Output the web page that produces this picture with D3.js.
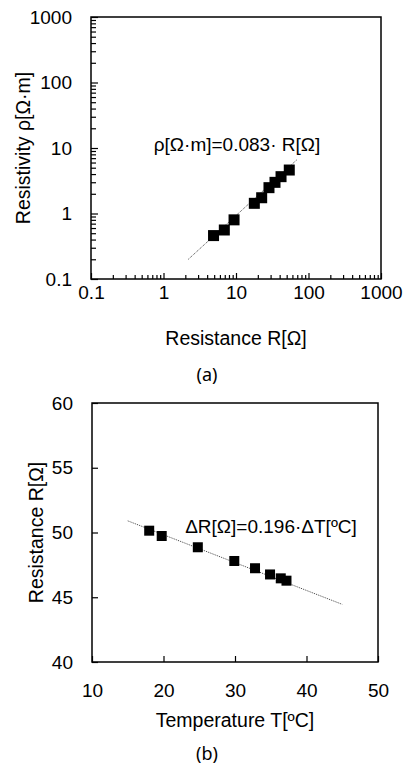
<!DOCTYPE html>
<html>
<head>
<meta charset="utf-8">
<script src="https://cdn.jsdelivr.net/npm/d3@7"></script>
<style>
  body { margin: 0; background: #fff; }
  svg text { font-family: "Liberation Sans", Arial, sans-serif; fill: #000; }
  .cap { font-family: "Noto Sans", "DejaVu Sans", sans-serif; }
</style>
</head>
<body>
<svg id="fig" width="406" height="767"></svg>
<script>
// (a) resistivity vs resistance, log-log
var resA = [4.9, 6.9, 9.4, 17.9, 22.6, 28.5, 34.5, 41.8, 54.3];
var rhoA = [0.46, 0.56, 0.80, 1.43, 1.74, 2.48, 2.99, 3.65, 4.61];
var fitResA = [2.2, 69];
var fitRhoA = [0.2, 6.6];
var decadeTicks = [0.1, 1, 10, 100, 1000];

// (b) resistance vs temperature
var tempB = [18.0, 19.75, 24.8, 29.9, 32.8, 34.9, 36.4, 37.2];
var resB = [50.14, 49.73, 48.86, 47.8, 47.24, 46.76, 46.46, 46.28];
var fitTempB = [15, 45];
var fitResB = [50.9, 44.45];
var tempTicks = [10, 20, 30, 40, 50];
var resTicks = [40, 45, 50, 55, 60];

var svg = d3.select("#fig");
var FS = 19;

function minorLog(lo, hi)
{
    var out = [];
    for (var d = lo; d < hi; d *= 10) {
        for (var k = 2; k <= 9; k++) out.push(d * k);
    }
    return out;
}

function frame(g, w, h)
{
    g.append("rect")
        .attr("width", w).attr("height", h)
        .attr("fill", "none")
        .attr("stroke", "#000")
        .attr("stroke-width", 1.5);
}

function squares(g, xs, ys, x, y, size)
{
    g.selectAll("rect.pt")
        .data(xs)
        .enter().append("rect")
        .attr("class", "pt")
        .attr("x", (d, i) => x(d) - size / 2)
        .attr("y", (d, i) => y(ys[i]) - size / 2)
        .attr("width", size).attr("height", size)
        .attr("fill", "#000");
}

function fitLine(g, xs, ys, x, y)
{
    g.append("line")
        .attr("x1", x(xs[0])).attr("y1", y(ys[0]))
        .attr("x2", x(xs[1])).attr("y2", y(ys[1]))
        .attr("stroke", "#444")
        .attr("stroke-width", 1)
        .attr("stroke-dasharray", "1,1");
}

function styleAxis(sel)
{
    sel.select(".domain").remove();
    sel.selectAll("line").attr("stroke", "#000").attr("stroke-width", 1.2);
    sel.selectAll("text").attr("font-size", FS).attr("font-family", "Liberation Sans, Arial, sans-serif");
}

// ---------- chart (a)
(function() {
    var left = 91, top = 17, w = 290, h = 262;
    var g = svg.append("g").attr("transform", `translate(${left},${top})`);

    var x = d3.scaleLog().domain([0.1, 1000]).range([0, w]);
    var y = d3.scaleLog().domain([0.1, 1000]).range([h, 0]);
    var fmt = d => String(d);

    // minor ticks
    g.append("g").attr("transform", `translate(0,${h})`)
        .call(d3.axisBottom(x).tickValues(minorLog(0.1, 1000)).tickSize(-4).tickFormat(""))
        .call(styleAxis);
    g.append("g")
        .call(d3.axisLeft(y).tickValues(minorLog(0.1, 1000)).tickSize(-5).tickFormat(""))
        .call(styleAxis);

    // major ticks + labels
    g.append("g").attr("transform", `translate(0,${h})`)
        .call(d3.axisBottom(x).tickValues(decadeTicks).tickSize(-6).tickPadding(7).tickFormat(fmt))
        .call(styleAxis);
    g.append("g")
        .call(d3.axisLeft(y).tickValues(decadeTicks).tickSize(-7).tickPadding(19).tickFormat(fmt))
        .call(styleAxis);

    frame(g, w, h);
    fitLine(g, fitResA, fitRhoA, x, y);
    squares(g, resA, rhoA, x, y, 11);

    g.append("text")
        .attr("x", 146).attr("y", 134)
        .attr("text-anchor", "middle")
        .attr("font-size", 19)
        .text("ρ[Ω·m]=0.083· R[Ω]");

    svg.append("text")
        .attr("x", left + w / 2).attr("y", 345)
        .attr("text-anchor", "middle")
        .attr("font-size", 19.5)
        .text("Resistance R[Ω]");

    svg.append("text")
        .attr("transform", `translate(30,${top + h / 2}) rotate(-90)`)
        .attr("text-anchor", "middle")
        .attr("font-size", 19.5)
        .text("Resistivity ρ[Ω·m]");

    svg.append("text")
        .attr("class", "cap")
        .attr("x", 207).attr("y", 381)
        .attr("text-anchor", "middle")
        .attr("font-size", 18)
        .text("(a)");
})();

// ---------- chart (b)
(function() {
    var left = 92, top = 403, w = 286, h = 259;
    var g = svg.append("g").attr("transform", `translate(${left},${top})`);

    var x = d3.scaleLinear().domain([10, 50]).range([0, w]);
    var y = d3.scaleLinear().domain([40, 60]).range([h, 0]);

    g.append("g").attr("transform", `translate(0,${h})`)
        .call(d3.axisBottom(x).tickValues(tempTicks).tickSize(-6).tickPadding(22))
        .call(styleAxis);
    g.append("g")
        .call(d3.axisLeft(y).tickValues(resTicks).tickSize(-6).tickPadding(19))
        .call(styleAxis);

    frame(g, w, h);
    fitLine(g, fitTempB, fitResB, x, y);
    squares(g, tempB, resB, x, y, 10);

    g.append("text")
        .attr("x", 179).attr("y", 130)
        .attr("text-anchor", "middle")
        .attr("font-size", 19)
        .text("ΔR[Ω]=0.196·ΔT[ºC]");

    svg.append("text")
        .attr("x", left + w / 2).attr("y", 727)
        .attr("text-anchor", "middle")
        .attr("font-size", 19.5)
        .text("Temperature T[ºC]");

    svg.append("text")
        .attr("transform", `translate(43,${top + h / 2}) rotate(-90)`)
        .attr("text-anchor", "middle")
        .attr("font-size", 19.5)
        .text("Resistance R[Ω]");

    svg.append("text")
        .attr("class", "cap")
        .attr("x", 207).attr("y", 760)
        .attr("text-anchor", "middle")
        .attr("font-size", 18)
        .text("(b)");
})();
</script>
</body>
</html>
